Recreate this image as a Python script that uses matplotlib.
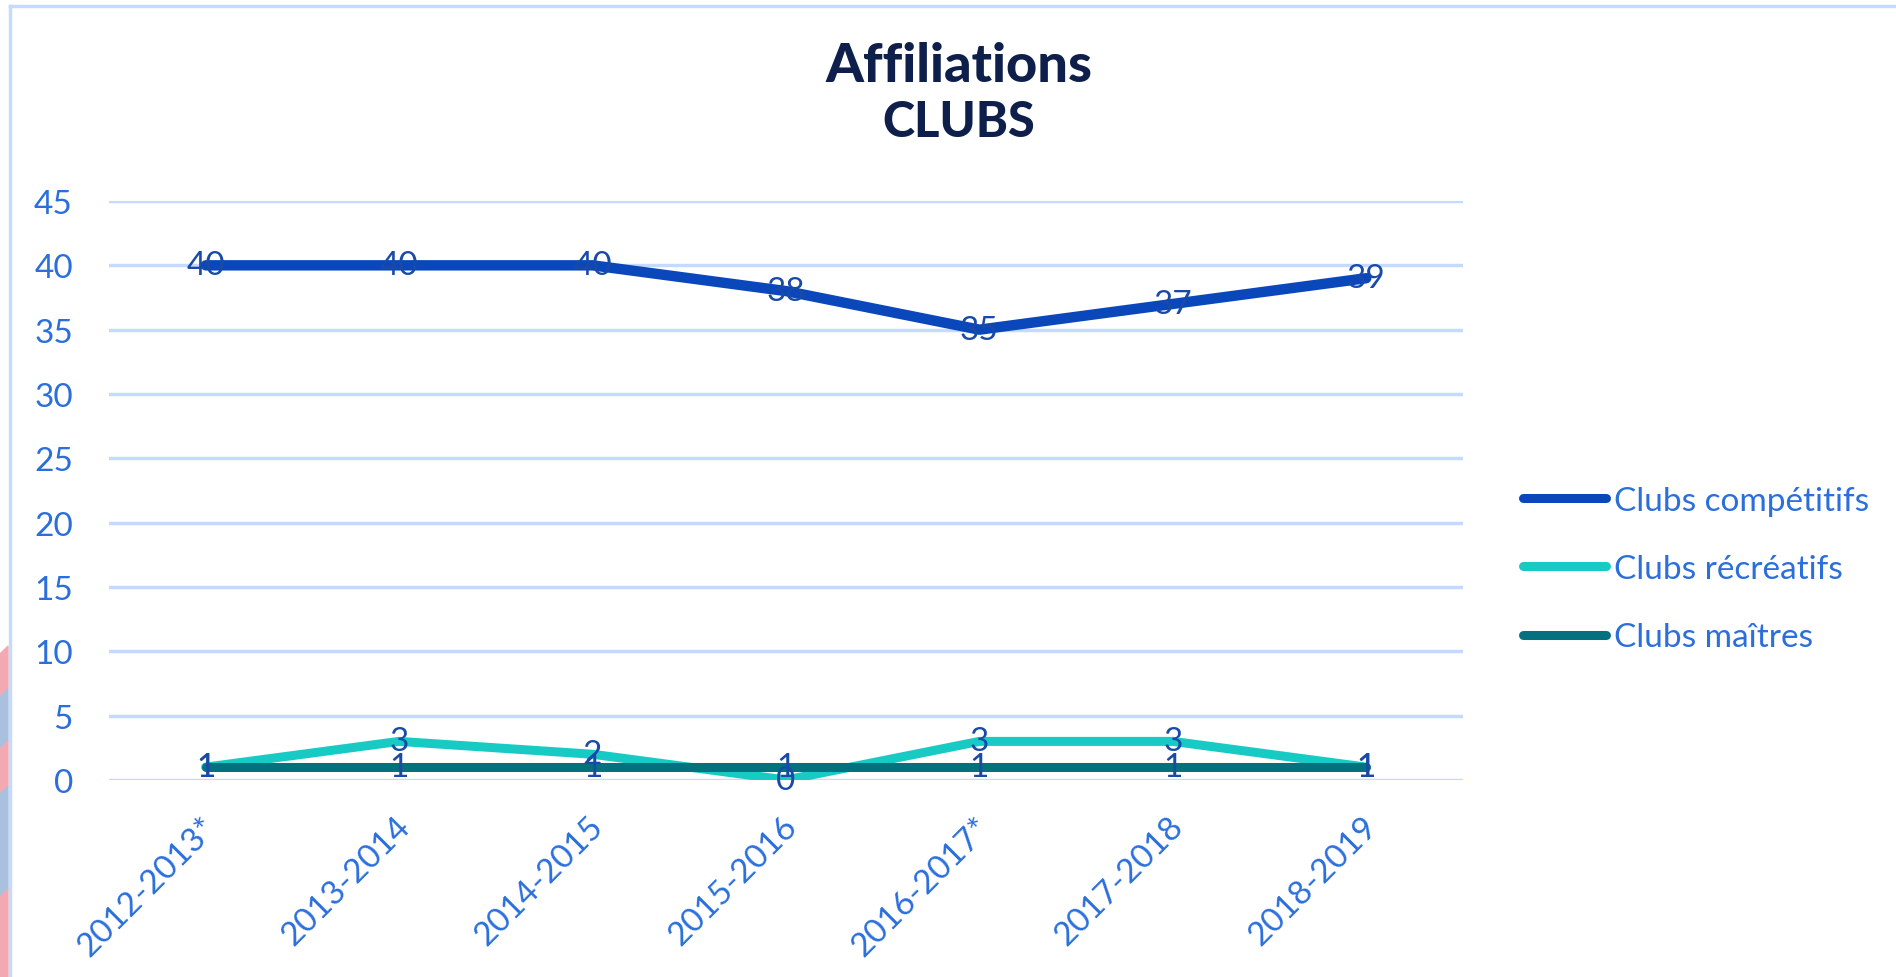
import matplotlib
matplotlib.use("Agg")
import matplotlib.pyplot as plt
from matplotlib.patches import Polygon
from matplotlib.lines import Line2D
from matplotlib.transforms import ScaledTranslation

seasons = ["2012-2013*", "2013-2014", "2014-2015", "2015-2016", "2016-2017*", "2017-2018", "2018-2019"]
competitifs = [40, 40, 40, 38, 35, 37, 39]
recreatifs = [1, 3, 2, 0, 3, 3, 1]
maitres = [1, 1, 1, 1, 1, 1, 1]
series_names = ["Clubs compétitifs", "Clubs récréatifs", "Clubs maîtres"]
yticks = [0, 5, 10, 15, 20, 25, 30, 35, 40, 45]

col_comp = "#0a47bb"
col_rec = "#17cbc4"
col_mai = "#04717f"
tick_col = "#2a6fdc"
lab_col = "#1a4aa8"
grid_col = "#c4dbff"
title_col = "#0d1f4a"
FS = 24

W, H = 1896, 978
fig = plt.figure(figsize=(W / 100, H / 100), dpi=100)
fig.patch.set_facecolor("white")

# decorative stripes at left edge
stripes = [(647, 690, "#f4a9b2"), (690, 742, "#a9c1dd"), (742, 787, "#f4a9b2"),
           (787, 890, "#a9c1dd"), (890, 978, "#f4a9b2")]
for y0, y1, c in stripes:
    pts = [(0, 1 - (y0 + 8) / H), (8 / W, 1 - y0 / H), (8 / W, 1 - y1 / H), (0, 1 - min(y1 + 8, H) / H)]
    fig.patches.append(Polygon(pts, closed=True, transform=fig.transFigure, color=c, zorder=0))

# frame
fig.lines.append(Line2D([9.5 / W, 9.5 / W], [0, 1 - 6.5 / H], transform=fig.transFigure, color=grid_col, lw=2.5))
fig.lines.append(Line2D([9.5 / W, 1], [1 - 6.5 / H, 1 - 6.5 / H], transform=fig.transFigure, color=grid_col, lw=2.5))

left, right, top, bottom = 109, 1463, 202, 781
ax = fig.add_axes([left / W, 1 - bottom / H, (right - left) / W, (bottom - top) / H])
ax.set_facecolor("none")
x = list(range(len(seasons)))
ax.set_xlim(-0.5, len(seasons) - 0.5)
ax.set_ylim(0, 45)
ax.set_yticks(yticks)
ax.yaxis.grid(True, color=grid_col, lw=2.5)
ax.set_axisbelow(True)
for s in ax.spines.values():
    s.set_visible(False)
ax.tick_params(axis="both", length=0, colors=tick_col, labelsize=FS)
ax.tick_params(axis="y", pad=26)
ax.set_xticks(x)
ax.set_xticklabels(seasons, rotation=45, ha="right", va="center", rotation_mode="anchor")
ax.tick_params(axis="x", pad=30)
shift = ScaledTranslation(6 / 100, 0, fig.dpi_scale_trans)
for lab in ax.get_xticklabels():
    lab.set_transform(lab.get_transform() + shift)
for lab in ax.get_xticklabels() + ax.get_yticklabels():
    lab.set_family("Lato")

ax.plot(x, recreatifs, color=col_rec, lw=6.5, solid_capstyle="round", zorder=3)
ax.plot(x, maitres, color=col_mai, lw=6.5, solid_capstyle="round", zorder=4)
ax.plot(x, competitifs, color=col_comp, lw=7.5, solid_capstyle="round", zorder=5)

for series in (competitifs, recreatifs, maitres):
    for xi, v in zip(x, series):
        ax.text(xi, v, str(v), ha="center", va="center", color=lab_col, fontsize=FS,
                family="Lato", zorder=6)

# legend
handles = [Line2D([], [], color=c, lw=6.5, solid_capstyle="round") for c in (col_comp, col_rec, col_mai)]
leg = fig.legend(handles, series_names, loc="center left", bbox_to_anchor=(1506 / W, 1 - 570 / H),
                 frameon=False, fontsize=FS, handlelength=2.5, handletextpad=0.25,
                 labelspacing=1.15, borderpad=0)
for t in leg.get_texts():
    t.set_color(tick_col)
    t.set_family("Lato")

# title
fig.text(959 / W, 1 - 66 / H, "Affiliations", ha="center", va="center", color=title_col,
         fontsize=39, fontweight=900, family="Lato")
fig.text(959 / W, 1 - 123 / H, "CLUBS", ha="center", va="center", color=title_col,
         fontsize=35, fontweight=900, family="Lato")

fig.savefig("out.png", dpi=100, facecolor="white")
